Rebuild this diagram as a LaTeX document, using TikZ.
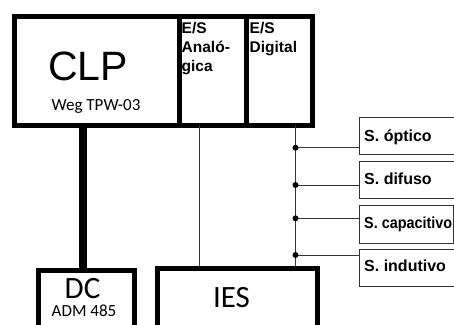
\documentclass[tikz,border=0pt]{standalone}
\usepackage{fontspec}
\setmainfont{Liberation Sans}
\newfontfamily\carlitofont{Carlito}
\begin{document}
\begin{tikzpicture}[x=1pt,y=-1pt,
  thickbox/.style={draw=black,line width=5pt,rectangle,inner sep=0pt,anchor=north west},
  sensbox/.style={draw=black!80,line width=1.1pt,rectangle,inner sep=0pt,anchor=north west,minimum width=100pt},
  es/.style={font=\fontsize{15.5}{19}\selectfont\bfseries,align=left,anchor=north west,inner sep=0pt},
  slabel/.style={font=\fontsize{16}{18}\selectfont\bfseries,anchor=base west,inner sep=0pt},
  wire/.style={draw=black!80,line width=0.8pt},
  dot/.style={circle,fill=black,inner sep=0pt,minimum size=6pt}]
\useasboundingbox (0,0) rectangle (454,324);
\clip (0,0) rectangle (454,324);
% CLP frame
\node[thickbox,minimum width=164.5pt,minimum height=109.5pt] (clp) at (12,13.5) {};
\node[thickbox,minimum width=67pt,minimum height=109.5pt] (esa) at (176.5,13.5) {};
\node[thickbox,minimum width=66pt,minimum height=109.5pt] (esd) at (243.5,13.5) {};
\node[anchor=base,inner sep=0pt,font=\fontsize{41}{41}\selectfont] (clpt) at (88,80) {CLP};
\node[anchor=base,inner sep=0pt,font=\carlitofont\fontsize{17}{17}\selectfont] (wegt) at (96,110) {Weg TPW-03};
\node[es] (esat) at (181.5,22.5) {E/S\\Analó-\\gica};
\node[es] (esdt) at (249.5,22.5) {E/S\\Digital};
% bottom boxes
\node[thickbox,minimum width=96pt,minimum height=80pt] (dc) at (36,268) {};
\node[thickbox,minimum width=159.5pt,minimum height=80pt] (ies) at (155,266) {};
\node[anchor=base,inner sep=0pt,font=\carlitofont\fontsize{31}{31}\selectfont] (dct) at (82.5,298) {DC};
\node[anchor=base,inner sep=0pt,font=\carlitofont\fontsize{17}{17}\selectfont] (adm) at (84,316) {ADM 485};
\node[anchor=base,inner sep=0pt,font=\carlitofont\fontsize{31}{31}\selectfont] (iest) at (231.5,307) {IES};
% sensors
\node[sensbox,minimum height=37pt] (s1) at (359.3,117.3) {};
\node[sensbox,minimum height=37.6pt] (s2) at (359.3,160.7) {};
\node[sensbox,minimum height=37.4pt,minimum width=93.7pt] (s3) at (359.3,205.3) {};
\node[sensbox,minimum height=36.7pt] (s4) at (359.3,249) {};
\node[slabel] (s1t) at (364,141.5) {S. óptico};
\node[slabel] (s2t) at (364,184) {S. difuso};
\node[slabel,xscale=0.9] (s3t) at (364,228.5) {S. capacitivo};
\node[slabel] (s4t) at (364,271.7) {S. indutivo};
% connectors
\coordinate (c1) at (83,125);
\draw[line width=7.5pt] (c1) -- (c1 |- dc.north);
\coordinate (c2) at (199.5,125);
\draw[wire] (c2) -- (c2 |- ies.north);
\coordinate (bt) at (295.5,125);
\draw[wire] (bt) -- (bt |- ies.north);
\foreach \s/\y in {1/147.7,2/185,3/218.3,4/255}{
  \coordinate (b\s) at (295.5,\y);
  \draw[wire] (b\s) -- (b\s -| s\s.west);
  \node[dot] (d\s) at (b\s) {};
}
\end{tikzpicture}
\end{document}
